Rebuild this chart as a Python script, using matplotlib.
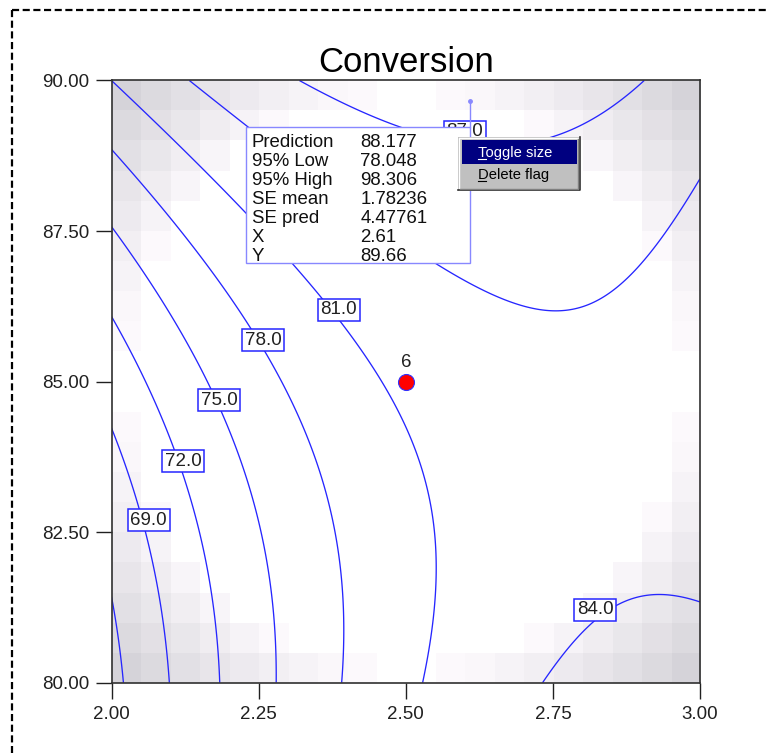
import numpy as np
import matplotlib
matplotlib.use('Agg')
import matplotlib.pyplot as plt
from matplotlib.colors import LinearSegmentedColormap
from matplotlib.lines import Line2D
from matplotlib.patches import Rectangle
from matplotlib.transforms import Affine2D

plt.rcParams['font.family'] = ['Liberation Sans', 'DejaVu Sans']

# fitted quadratic model in coded units: B = (y-85)/5, C = (x-2.5)/0.5
coef_names = ['const', 'B', 'C', 'B^2', 'C^2', 'BC']
coef_vals = [81.54, 4.04, 6.20, 2.94, -5.19, -3.87]

x_lim = [2.0, 3.0]
y_lim = [80.0, 90.0]
levels = [66, 69, 72, 75, 78, 81, 84, 87]
label_levels = [69, 72, 75, 78, 81, 84, 87]
label_x = [2.063, 2.122, 2.183, 2.258, 2.386, 2.822, 2.600]
label_y = [82.70, 83.68, 84.69, 85.69, 86.19, 81.21, 89.15]
xticks = [2.00, 2.25, 2.50, 2.75, 3.00]
yticks = [80.00, 82.50, 85.00, 87.50, 90.00]

design_x = [2.5]
design_y = [85.0]
design_lab = ['6']

flag_names = ['Prediction', '95% Low', '95% High', 'SE mean', 'SE pred', 'X', 'Y']
flag_vals = ['88.177', '78.048', '98.306', '1.78236', '4.47761', '2.61', '89.66']
flag_x, flag_y = 2.61, 89.66
menu_items = ['Toggle size', 'Delete flag']

BLUE = '#2626ff'


def conversion(x, y):
    c = (x - 2.5) / 0.5
    b = (y - 85.0) / 5.0
    k = coef_vals
    return k[0] + k[1]*b + k[2]*c + k[3]*b*b + k[4]*c*c + k[5]*b*c


W, H = 769, 753
fig = plt.figure(figsize=(W / 100, H / 100), dpi=100)
ax = fig.add_axes([111.5 / W, 1 - 682.7 / H, (700 - 111.5) / W, (682.7 - 80.5) / H])
top = Affine2D().scale(1, -1).translate(0, H)  # pixel coords, origin top-left

# standard error shading (darker toward the corners)
n = 20
cc = (np.arange(n) + 0.5) / n * 2 - 1
Cg, Bg = np.meshgrid(cc, cc)
rho2 = Cg**2 + Bg**2
shade = np.where(rho2 < 0.92, 0.0, np.clip((rho2 - 0.92) / 0.9, 0.02, 1) ** 0.8)
cmap = LinearSegmentedColormap.from_list(
    'se', [(0, '#ffffff'), (0.02, '#fdfafd'), (1, '#d5d3d9')])
ax.imshow(shade, origin='lower', extent=x_lim + y_lim, aspect='auto',
          cmap=cmap, vmin=0, vmax=1, interpolation='nearest', zorder=0)

xs = np.linspace(x_lim[0], x_lim[1], 300)
ys = np.linspace(y_lim[0], y_lim[1], 300)
X, Y = np.meshgrid(xs, ys)
Z = conversion(X, Y)
cs = ax.contour(X, Y, Z, levels=levels, colors=BLUE, linewidths=0.95, zorder=2)

for lev, lx, ly in zip(label_levels, label_x, label_y):
    ax.text(lx, ly, f'{lev:.1f}', ha='center', va='center', fontsize=13.5,
            color='#202020', zorder=4,
            bbox=dict(boxstyle='square,pad=0.14', fc='white', ec=BLUE, lw=1.1))

ax.plot(design_x, design_y, 'o', ms=11.5, mfc='#ff0000', mec='#3030ff',
        mew=0.8, zorder=5)
for dx, dy, lab in zip(design_x, design_y, design_lab):
    ax.annotate(lab, (dx, dy), xytext=(0, 15), textcoords='offset pixels',
                ha='center', va='baseline', fontsize=13.5, color='#202020')

ax.set_xlim(x_lim)
ax.set_ylim(y_lim)
ax.set_xticks(xticks)
ax.set_yticks(yticks)
ax.set_xticklabels([f'{v:.2f}' for v in xticks])
ax.set_yticklabels([f'{v:.2f}' for v in yticks])
ax.tick_params(direction='out', length=11.5, width=1.0, labelsize=13.5,
               colors='#202020')
ax.tick_params(axis='x', pad=5.5)
ax.tick_params(axis='y', pad=4.5)
for s in ax.spines.values():
    s.set_color('#303030')
    s.set_linewidth(1.2)
ax.set_title('Conversion', fontsize=25, pad=6)

# flag box anchored at the probed point
fx, fy = ax.transData.transform((flag_x, flag_y))
fy = H - fy
bl, br, bt, bb = fx - 224, fx, fy + 26, fy + 162
FLAG = '#8888ff'
fig.add_artist(Rectangle((bl, bt), br - bl, bb - bt, transform=top,
                         fc='white', ec=FLAG, lw=1.0, zorder=10))
fig.add_artist(Line2D([fx, fx], [fy, bt], transform=top, color=FLAG,
                      lw=1.0, zorder=10))
fig.add_artist(Line2D([fx], [fy], transform=top, marker='o', ms=2.5,
                      color=FLAG, zorder=10))
for i, (nm, val) in enumerate(zip(flag_names, flag_vals)):
    base = bt + 20 + 19 * i
    fig.text(bl + 5.5, base, nm, transform=top, fontsize=13.4, va='baseline',
             color='#101010', zorder=11)
    fig.text(bl + 114, base, val, transform=top, fontsize=13.4, va='baseline',
             color='#101010', zorder=11)

# context menu
ml, mt, mr, mb = 458, 137, 580, 190.5
fig.add_artist(Rectangle((ml, mt), mr - ml, mb - mt, transform=top,
                         fc='#c0c0c0', ec='none', zorder=12))
fig.add_artist(Line2D([ml + 1, ml + 1, mr - 1], [mb - 1, mt + 1, mt + 1],
                      transform=top, color='white', lw=1.0, zorder=13))
fig.add_artist(Line2D([ml, mr - 0.5, mr - 0.5], [mb - 0.5, mb - 0.5, mt],
                      transform=top, color='#303030', lw=1.2, zorder=13))
fig.add_artist(Line2D([ml + 1.5, mr - 2, mr - 2], [mb - 2, mb - 2, mt + 1.5],
                      transform=top, color='#808080', lw=1.0, zorder=13))
fig.add_artist(Rectangle((461.5, 139.5), 115.5, 24.5, transform=top,
                         fc='#000080', ec='none', zorder=13))
for i, item in enumerate(menu_items):
    base = 156.7 + 22.5 * i
    col = 'white' if i == 0 else 'black'
    fig.text(478, base, item, transform=top, fontsize=10.6, va='baseline',
             color=col, zorder=14)
    fig.add_artist(Line2D([478, 485.5], [base + 2, base + 2], transform=top,
                          color=col, lw=0.8, zorder=14))

# dashed page border
fig.add_artist(Line2D([12, W], [10, 10], transform=top, color='black',
                      lw=1.6, ls=(0, (3.2, 1.6))))
fig.add_artist(Line2D([12, 12], [10, H], transform=top, color='black',
                      lw=1.6, ls=(0, (3.2, 1.6))))

fig.savefig('out.png', dpi=100)
